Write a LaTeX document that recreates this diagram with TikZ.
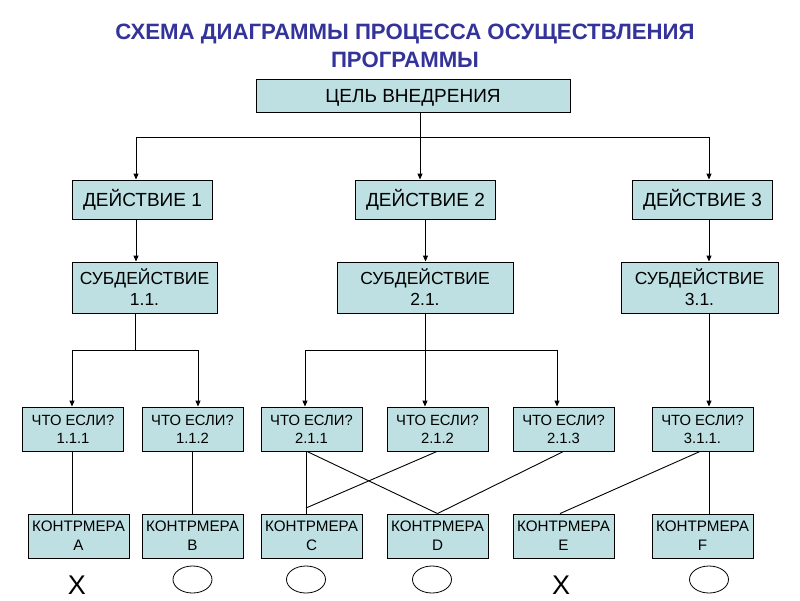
\documentclass[tikz,border=0pt]{standalone}
\usepackage{fontspec}
\setmainfont{Liberation Sans}
\usetikzlibrary{arrows.meta,shapes.geometric}
\definecolor{boxfill}{RGB}{190,224,226}
\definecolor{titleblue}{RGB}{51,51,153}

\begin{document}
\begin{tikzpicture}[x=1pt,y=-1pt,
    box/.style={draw=black, line width=0.9pt, fill=boxfill, inner sep=0pt, align=center},
    actbox/.style={box, minimum width=140pt, minimum height=39pt, text height=13.6pt, text depth=0pt, font=\fontsize{19}{22}\selectfont},
    subbox/.style={box, minimum height=51pt, font=\fontsize{17.5}{21}\selectfont},
    ifbox/.style={box, minimum width=101pt, minimum height=44pt, font=\fontsize{14.8}{18}\selectfont},
    cmbox/.style={box, minimum width=101pt, minimum height=44pt, font=\fontsize{15.2}{19}\selectfont},
    wire/.style={line width=0.9pt},
    arr/.style={wire, -{Triangle[length=6pt,width=5pt]}},
    oval/.style={draw, ellipse, line width=0.8pt, minimum width=39pt, minimum height=27pt, inner sep=0pt},
    cross/.style={inner sep=0pt, font=\fontsize{27}{27}\selectfont}
  ]
  \useasboundingbox (0,0) rectangle (800,600);

  \node[font=\fontsize{22.2}{28}\selectfont\bfseries, text=titleblue, align=center] (title) at (405,46)
    {СХЕМА ДИАГРАММЫ ПРОЦЕССА ОСУЩЕСТВЛЕНИЯ\\ПРОГРАММЫ};

  \node[actbox, minimum width=314pt, minimum height=33pt] (goal) at (413,96) {ЦЕЛЬ ВНЕДРЕНИЯ};

  \node[actbox] (act1) at (142.5,199.5) {ДЕЙСТВИЕ 1};
  \node[actbox] (act2) at (425.5,199.5) {ДЕЙСТВИЕ 2};
  \node[actbox] (act3) at (702.5,199.5) {ДЕЙСТВИЕ 3};

  \node[subbox, minimum width=145pt] (sub1) at (144.5,287.5) {СУБДЕЙСТВИЕ\\1.1.};
  \node[subbox, minimum width=176pt] (sub2) at (425,287.5) {СУБДЕЙСТВИЕ\\2.1.};
  \node[subbox, minimum width=157pt] (sub3) at (699.5,287.5) {СУБДЕЙСТВИЕ\\3.1.};

  \node[ifbox] (w111) at (73,429) {ЧТО ЕСЛИ?\\1.1.1};
  \node[ifbox] (w112) at (192.5,429) {ЧТО ЕСЛИ?\\1.1.2};
  \node[ifbox] (w211) at (311.5,429) {ЧТО ЕСЛИ?\\2.1.1};
  \node[ifbox] (w212) at (437.5,429) {ЧТО ЕСЛИ?\\2.1.2};
  \node[ifbox] (w213) at (563.5,429) {ЧТО ЕСЛИ?\\2.1.3};
  \node[ifbox] (w311) at (702.5,429) {ЧТО ЕСЛИ?\\3.1.1.};

  \node[cmbox] (cmA) at (78.5,536) {КОНТРМЕРА\\A};
  \node[cmbox] (cmB) at (192.5,536) {КОНТРМЕРА\\B};
  \node[cmbox] (cmC) at (311.5,536) {КОНТРМЕРА\\C};
  \node[cmbox] (cmD) at (437.5,536) {КОНТРМЕРА\\D};
  \node[cmbox] (cmE) at (563.5,536) {КОНТРМЕРА\\E};
  \node[cmbox] (cmF) at (702.5,536) {КОНТРМЕРА\\F};

  \node[cross] (xA) at (77,585) {X};
  \node[oval] (oB) at (192.5,579.5) {};
  \node[oval] (oC) at (306,579.5) {};
  \node[oval] (oD) at (432,579.5) {};
  \node[cross] (xE) at (561,585) {X};
  \node[oval] (oF) at (709,579.5) {};

  \coordinate (bus1) at (420,137);
  \coordinate (bus2) at (135,350);
  \coordinate (bus3) at (425,350);
  \coordinate (cjoin) at (306,508);

  \draw[arr] ([xshift=7pt]goal.south) -- ([xshift=-5.5pt]act2.north);
  \draw[arr] (bus1) -| ([xshift=-6.5pt]act1.north);
  \draw[arr] (bus1) -| ([xshift=6.5pt]act3.north);

  \draw[arr] ([xshift=-6.5pt]act1.south) -- ([xshift=-8.5pt]sub1.north);
  \draw[arr] (act2.south) -- (act2.south |- sub2.north);
  \draw[arr] ([xshift=6.5pt]act3.south) -- ([xshift=9.5pt]sub3.north);

  \draw[wire] ([xshift=-9.5pt]sub1.south) -- (bus2);
  \draw[arr] (bus2) -| ([xshift=-1pt]w111.north);
  \draw[arr] (bus2) -| ([xshift=5.5pt]w112.north);
  \draw[arr] (sub2.south) -- (sub2.south |- w212.north);
  \draw[arr] (bus3) -| ([xshift=-6.5pt]w211.north);
  \draw[arr] (bus3) -| ([xshift=-6.5pt]w213.north);
  \draw[arr] ([xshift=9.5pt]sub3.south) -- ([xshift=6.5pt]w311.north);

  \draw[wire] ([xshift=-1pt]w111.south) -- ([xshift=-6.5pt]cmA.north);
  \draw[wire] (w112.south) -- (cmB.north);
  \draw[wire] ([xshift=-5.5pt]w211.south) -- ([xshift=-5.5pt]cmC.north);
  \draw[wire] (cjoin) -- ([xshift=-0.5pt]w212.south);
  \draw[wire] ([xshift=-4.5pt]w211.south) -- (cmD.north);
  \draw[wire] (w213.south) -- (cmD.north);
  \draw[wire] ([xshift=-2.5pt]w311.south) -- ([xshift=-3.5pt]cmE.north);
  \draw[wire] ([xshift=6.5pt]w311.south) -- ([xshift=6.5pt]cmF.north);
\end{tikzpicture}
\end{document}
